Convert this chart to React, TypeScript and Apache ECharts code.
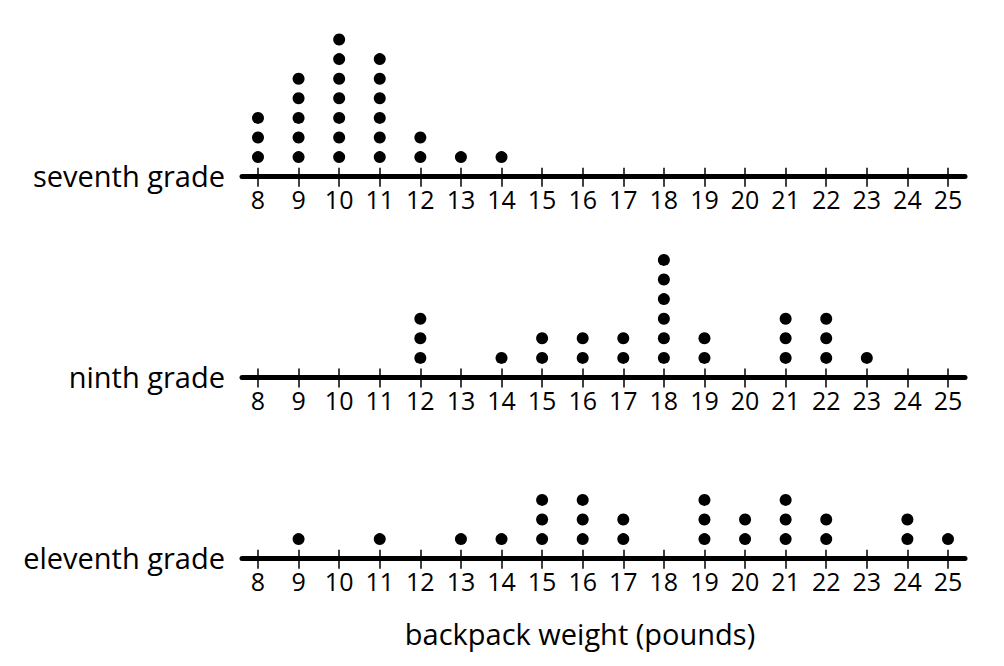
import React, { useEffect, useRef } from "react";
import * as echarts from "echarts";

const tickValues = [8, 9, 10, 11, 12, 13, 14, 15, 16, 17, 18, 19, 20, 21, 22, 23, 24, 25];

const gradeNames = ["seventh grade", "ninth grade", "eleventh grade"];

const seventhWeights = [8, 9, 10, 11, 12, 13, 14];
const seventhCounts = [3, 5, 7, 6, 2, 1, 1];

const ninthWeights = [12, 14, 15, 16, 17, 18, 19, 21, 22, 23];
const ninthCounts = [3, 1, 2, 2, 2, 6, 2, 3, 3, 1];

const eleventhWeights = [9, 11, 13, 14, 15, 16, 17, 19, 20, 21, 22, 24, 25];
const eleventhCounts = [1, 1, 1, 1, 3, 3, 2, 3, 2, 3, 2, 2, 1];

const xTitle = "backpack weight (pounds)";

const W = 1004;
const H = 666;
const FONT = "'Open Sans', sans-serif";
const INK = "#000";

function stackDots(weights: number[], counts: number[]): number[][] {
  const pts: number[][] = [];
  weights.forEach((w, i) => {
    for (let k = 1; k <= counts[i]; k++) pts.push([w, k]);
  });
  return pts;
}

export default function App() {
  const ref = useRef<HTMLDivElement>(null);

  useEffect(() => {
    document.body.style.margin = "0";
    if (!ref.current) return;
    const chart = echarts.init(ref.current, undefined, { renderer: "svg" });

    const axisYs = [176.7, 377.5, 558.7];
    const gridLeft = 242;
    const gridRight = W - 965;
    const gridH = 165;
    const dotStep = 19.6;
    const yMax = gridH / dotStep;
    const xMin = 7.606;
    const xMax = 25.419;

    const datasets = [
      stackDots(seventhWeights, seventhCounts),
      stackDots(ninthWeights, ninthCounts),
      stackDots(eleventhWeights, eleventhCounts),
    ];

    const grids = axisYs.map((ay) => ({
      left: gridLeft,
      right: gridRight,
      top: ay - gridH,
      height: gridH,
    }));

    const xAxes: any[] = [];
    axisYs.forEach((_, i) => {
      xAxes.push({
        gridIndex: i,
        type: "value",
        position: "bottom",
        min: xMin,
        max: xMax,
        axisLine: { show: true, onZero: false, lineStyle: { color: INK, width: 5 } },
        axisTick: {
          show: true,
          customValues: tickValues,
          length: 10,
          lineStyle: { color: INK, width: 1.5 },
        },
        axisLabel: {
          show: true,
          customValues: tickValues,
          fontSize: 25,
          color: INK,
          fontFamily: FONT,
          margin: 10,
        },
        splitLine: { show: false },
      });
      xAxes.push({
        gridIndex: i,
        type: "value",
        position: "bottom",
        offset: 0,
        min: xMin,
        max: xMax,
        axisLine: { show: false, onZero: false },
        axisTick: {
          show: true,
          inside: true,
          customValues: tickValues,
          length: 9,
          lineStyle: { color: INK, width: 1.5 },
        },
        axisLabel: { show: false },
        splitLine: { show: false },
      });
    });

    const yAxes = axisYs.map((_, i) => ({
      gridIndex: i,
      type: "value",
      min: 0,
      max: yMax,
      show: false,
    }));

    const series = datasets.map((d, i) => ({
      type: "scatter",
      xAxisIndex: i * 2,
      yAxisIndex: i,
      data: d,
      symbol: "circle",
      symbolSize: 12,
      itemStyle: { color: INK, opacity: 1 },
      silent: true,
      z: 5,
    }));

    const graphics: any[] = gradeNames.map((name, i) => ({
      type: "text",
      x: 225,
      y: axisYs[i] - 1,
      style: {
        text: name,
        fontSize: 29,
        fontFamily: FONT,
        fill: INK,
        textAlign: "right",
        textVerticalAlign: "middle",
      },
    }));
    graphics.push({
      type: "text",
      x: 580,
      y: 633,
      style: {
        text: xTitle,
        fontSize: 29,
        fontFamily: FONT,
        fill: INK,
        textAlign: "center",
        textVerticalAlign: "middle",
      },
    });

    chart.setOption({
      animation: false,
      backgroundColor: "#fff",
      grid: grids,
      xAxis: xAxes,
      yAxis: yAxes,
      series,
      graphic: graphics,
    });

    return () => chart.dispose();
  }, []);

  return <div ref={ref} style={{ width: W, height: H }} />;
}
